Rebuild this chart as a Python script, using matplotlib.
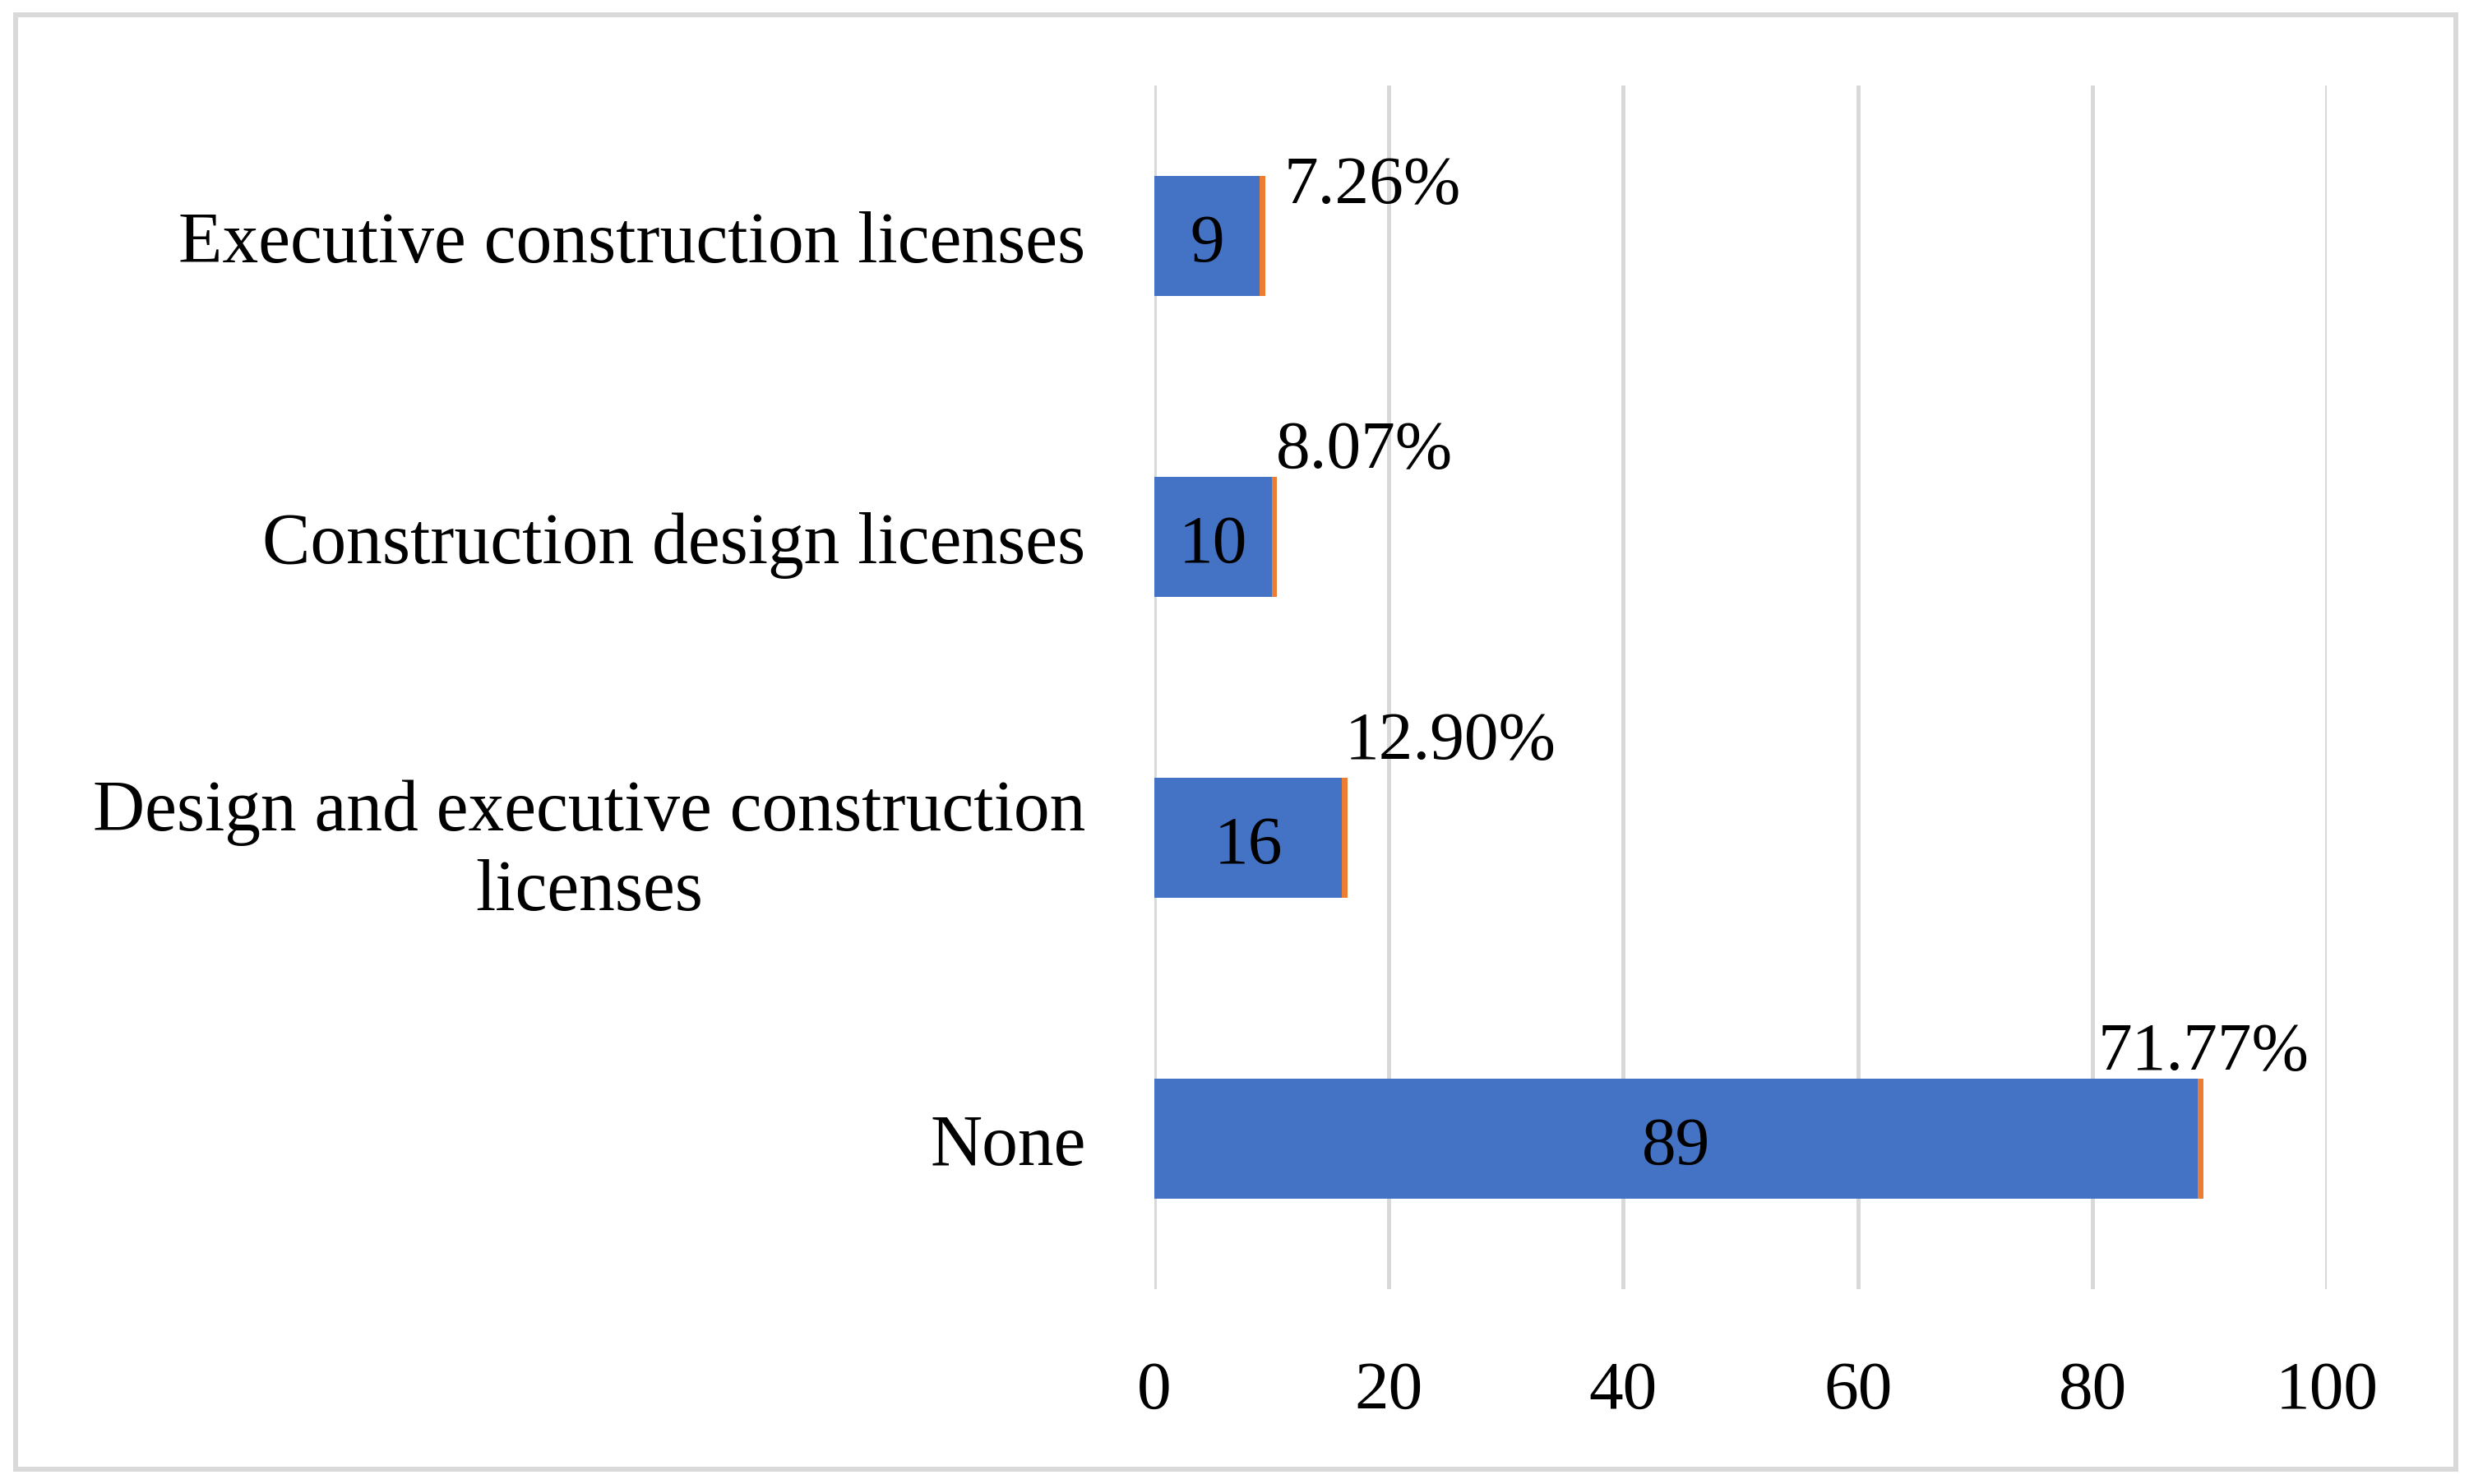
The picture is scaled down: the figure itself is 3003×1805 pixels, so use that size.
import matplotlib
matplotlib.use('Agg')
import matplotlib.pyplot as plt
from matplotlib.patches import Rectangle

# data, top row first
categories = ['Executive construction licenses', 'Construction design licenses',
              'Design and executive construction\nlicenses', 'None']
counts = [9, 10, 16, 89]
extra = [0.45, 0.45, 0.45, 0.45]  # thin orange segment
pct_labels = ['7.26%', '8.07%', '12.90%', '71.77%']
x_ticks = [0, 20, 40, 60, 80, 100]

# label placement (pixels from bar end / bar top)
pct_dx = [23, -1, -3, 0]
pct_dy = [-32, 12, 24, 12]
pct_ha = ['left', 'left', 'left', 'center']

BLUE = '#4472C4'
ORANGE = '#ED7D31'
GRID = '#D9D9D9'
FS = 60

plt.rcParams['font.family'] = ['Liberation Serif', 'DejaVu Serif']

fig = plt.figure(figsize=(30.03, 18.06), dpi=100)
ax = fig.add_axes([0.4675, 0.13123, 0.4750, 0.81063])

ypos = list(range(len(categories)))
ax.barh(ypos, counts, height=0.4, color=BLUE, zorder=3)
ax.barh(ypos, extra, left=counts, height=0.4, color=ORANGE, zorder=3)

for i in ypos:
    ax.annotate(str(counts[i]), xy=(counts[i] / 2, i), xytext=(0, -10),
                textcoords='offset pixels', ha='center', va='center',
                fontsize=FS, color='black', zorder=4)
    ax.annotate(pct_labels[i], xy=(counts[i] + extra[i], i - 0.2),
                xytext=(pct_dx[i], pct_dy[i]), textcoords='offset pixels',
                ha=pct_ha[i], va='baseline', fontsize=FS, zorder=4)

ax.set_xlim(0, 100)
ax.set_ylim(3.5, -0.5)
ax.set_xticks(x_ticks)
ax.set_xticklabels([str(t) for t in x_ticks], fontsize=FS)
ax.set_yticks(ypos)
ax.set_yticklabels(categories, fontsize=63)
for lbl in ax.get_yticklabels():
    lbl.set_multialignment('center')
    lbl.set_linespacing(1.25)

ax.grid(axis='x', color=GRID, linewidth=3.6, zorder=0)
ax.tick_params(axis='both', length=0)
ax.tick_params(axis='x', pad=62)
ax.tick_params(axis='y', pad=60)
for s in ax.spines.values():
    s.set_visible(False)

fig.patches.append(Rectangle((19 / 3003, 18 / 1806), 2968 / 3003, 1769 / 1806,
                             transform=fig.transFigure, fill=False,
                             edgecolor=GRID, linewidth=4.3))

fig.savefig('out.png', dpi=100, facecolor='white')
